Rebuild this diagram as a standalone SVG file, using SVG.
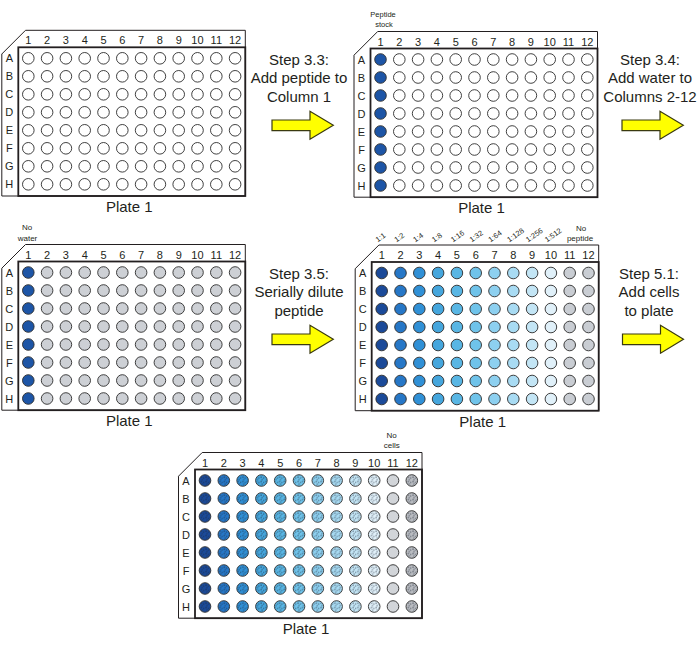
<svg xmlns="http://www.w3.org/2000/svg" xmlns:xlink="http://www.w3.org/1999/xlink" width="699" height="645" viewBox="0 0 699 645">
<style>
text{font-family:"Liberation Sans",Arial,sans-serif;fill:#231f20}
.n{font-size:11px;text-anchor:middle}
.pl{font-size:15px;text-anchor:middle}
.st{font-size:15px;text-anchor:middle}
.sm{font-size:8px;text-anchor:middle}
.dl{font-size:7.5px}
.outer{fill:#fff;stroke:#231f20;stroke-width:1}
.inner{fill:none;stroke:#231f20;stroke-width:1.8}
.w circle{stroke:#2b2b2b;stroke-width:0.9}
.arrow{fill:#ffff00;stroke:#3a3a10;stroke-width:1.2}
</style>
<defs>
<pattern id="cells" x="0" y="0" width="4.6" height="4.6" patternUnits="userSpaceOnUse">
<circle cx="1" cy="1.1" r="0.7" fill="#1a2433" fill-opacity="0.7"/>
<circle cx="3.4" cy="2.0" r="0.6" fill="#1a2433" fill-opacity="0.7"/>
<circle cx="1.9" cy="3.7" r="0.6" fill="#1a2433" fill-opacity="0.7"/>
</pattern>
<g id="frame">
<path class="outer" d="M-2.8,-28H217V137.7H-26.5V-4.3Z"/>
<rect class="inner" x="-10" y="-11" width="227" height="148.7"/>
<g class="n">
<text x="-19" y="4">A</text><text x="-19" y="22">B</text><text x="-19" y="40">C</text><text x="-19" y="58">D</text>
<text x="-19" y="76">E</text><text x="-19" y="94">F</text><text x="-19" y="112">G</text><text x="-19" y="130">H</text>
<text x="0" y="-14">1</text><text x="18.8" y="-14">2</text><text x="37.6" y="-14">3</text><text x="56.4" y="-14">4</text>
<text x="75.2" y="-14">5</text><text x="94" y="-14">6</text><text x="112.8" y="-14">7</text><text x="131.6" y="-14">8</text>
<text x="150.4" y="-14">9</text><text x="169.2" y="-14">10</text><text x="188" y="-14">11</text><text x="206.8" y="-14">12</text>
</g>
</g>
<g id="r1" class="w">
<circle cx="0" r="5.8" fill="#fff"/><circle cx="18.8" r="5.8" fill="#fff"/><circle cx="37.6" r="5.8" fill="#fff"/><circle cx="56.4" r="5.8" fill="#fff"/>
<circle cx="75.2" r="5.8" fill="#fff"/><circle cx="94" r="5.8" fill="#fff"/><circle cx="112.8" r="5.8" fill="#fff"/><circle cx="131.6" r="5.8" fill="#fff"/>
<circle cx="150.4" r="5.8" fill="#fff"/><circle cx="169.2" r="5.8" fill="#fff"/><circle cx="188" r="5.8" fill="#fff"/><circle cx="206.8" r="5.8" fill="#fff"/>
</g>
<g id="r2" class="w">
<circle cx="0" r="5.8" fill="#1d55a6"/><circle cx="18.8" r="5.8" fill="#fff"/><circle cx="37.6" r="5.8" fill="#fff"/><circle cx="56.4" r="5.8" fill="#fff"/>
<circle cx="75.2" r="5.8" fill="#fff"/><circle cx="94" r="5.8" fill="#fff"/><circle cx="112.8" r="5.8" fill="#fff"/><circle cx="131.6" r="5.8" fill="#fff"/>
<circle cx="150.4" r="5.8" fill="#fff"/><circle cx="169.2" r="5.8" fill="#fff"/><circle cx="188" r="5.8" fill="#fff"/><circle cx="206.8" r="5.8" fill="#fff"/>
</g>
<g id="r3" class="w">
<circle cx="0" r="5.8" fill="#1d55a6"/><circle cx="18.8" r="5.8" fill="#cdd0d5"/><circle cx="37.6" r="5.8" fill="#cdd0d5"/><circle cx="56.4" r="5.8" fill="#cdd0d5"/>
<circle cx="75.2" r="5.8" fill="#cdd0d5"/><circle cx="94" r="5.8" fill="#cdd0d5"/><circle cx="112.8" r="5.8" fill="#cdd0d5"/><circle cx="131.6" r="5.8" fill="#cdd0d5"/>
<circle cx="150.4" r="5.8" fill="#cdd0d5"/><circle cx="169.2" r="5.8" fill="#cdd0d5"/><circle cx="188" r="5.8" fill="#cdd0d5"/><circle cx="206.8" r="5.8" fill="#cdd0d5"/>
</g>
<g id="r4" class="w">
<circle cx="0" r="5.8" fill="#1b4a99"/><circle cx="18.8" r="5.8" fill="#2677c7"/><circle cx="37.6" r="5.8" fill="#3090d6"/><circle cx="56.4" r="5.8" fill="#45a6dd"/>
<circle cx="75.2" r="5.8" fill="#59b6e4"/><circle cx="94" r="5.8" fill="#6fc3ea"/><circle cx="112.8" r="5.8" fill="#8dd0f0"/><circle cx="131.6" r="5.8" fill="#a8dbf3"/>
<circle cx="150.4" r="5.8" fill="#c3e5f5"/><circle cx="169.2" r="5.8" fill="#e0f0f9"/><circle cx="188" r="5.8" fill="#c9cdd3"/><circle cx="206.8" r="5.8" fill="#c9cdd3"/>
</g>
<g id="r5">
<g class="w">
<circle cx="0" r="5.8" fill="#1b4a99"/><circle cx="18.8" r="5.8" fill="#2677c7"/><circle cx="37.6" r="5.8" fill="#3090d6"/><circle cx="56.4" r="5.8" fill="#45a6dd"/>
<circle cx="75.2" r="5.8" fill="#59b6e4"/><circle cx="94" r="5.8" fill="#6fc3ea"/><circle cx="112.8" r="5.8" fill="#8dd0f0"/><circle cx="131.6" r="5.8" fill="#a8dbf3"/>
<circle cx="150.4" r="5.8" fill="#c3e5f5"/><circle cx="169.2" r="5.8" fill="#e0f0f9"/><circle cx="188" r="5.8" fill="#d2d5d9"/><circle cx="206.8" r="5.8" fill="#b9bcc1"/>
</g>
<g fill="url(#cells)" stroke="none">
<circle cx="0" r="5" /><circle cx="18.8" r="5"/><circle cx="37.6" r="5"/><circle cx="56.4" r="5"/>
<circle cx="75.2" r="5"/><circle cx="94" r="5"/><circle cx="112.8" r="5"/><circle cx="131.6" r="5"/>
<circle cx="150.4" r="5"/><circle cx="169.2" r="5"/><circle cx="206.8" r="5"/>
</g>
</g>
</defs>

<g id="plate-1-empty">
<g transform="translate(28.3,58.3)">
<use xlink:href="#frame"/>
<use xlink:href="#r1" y="0"/><use xlink:href="#r1" y="18"/><use xlink:href="#r1" y="36"/><use xlink:href="#r1" y="54"/>
<use xlink:href="#r1" y="72"/><use xlink:href="#r1" y="90"/><use xlink:href="#r1" y="108"/><use xlink:href="#r1" y="126"/>
<text class="pl" x="101" y="153.5">Plate 1</text>
</g>
</g>

<g id="plate-2-peptide">
<g transform="translate(380.5,59.5)">
<use xlink:href="#frame"/>
<use xlink:href="#r2" y="0"/><use xlink:href="#r2" y="18"/><use xlink:href="#r2" y="36"/><use xlink:href="#r2" y="54"/>
<use xlink:href="#r2" y="72"/><use xlink:href="#r2" y="90"/><use xlink:href="#r2" y="108"/><use xlink:href="#r2" y="126"/>
<text class="pl" x="101" y="153.5">Plate 1</text>
</g>
<text class="sm" style="font-size:7.5px" x="383" y="17">Peptide</text>
<text class="sm" style="font-size:7.5px" x="384" y="27">stock</text>
</g>

<g id="plate-3-water">
<g transform="translate(28.3,272.5)">
<use xlink:href="#frame"/>
<use xlink:href="#r3" y="0"/><use xlink:href="#r3" y="18"/><use xlink:href="#r3" y="36"/><use xlink:href="#r3" y="54"/>
<use xlink:href="#r3" y="72"/><use xlink:href="#r3" y="90"/><use xlink:href="#r3" y="108"/><use xlink:href="#r3" y="126"/>
<text class="pl" x="101" y="153.5">Plate 1</text>
</g>
<text class="sm" x="27" y="230">No</text>
<text class="sm" x="27.5" y="240.5">water</text>
</g>

<g id="plate-4-dilution">
<g transform="translate(381.7,273)">
<use xlink:href="#frame"/>
<use xlink:href="#r4" y="0"/><use xlink:href="#r4" y="18"/><use xlink:href="#r4" y="36"/><use xlink:href="#r4" y="54"/>
<use xlink:href="#r4" y="72"/><use xlink:href="#r4" y="90"/><use xlink:href="#r4" y="108"/><use xlink:href="#r4" y="126"/>
<text class="pl" x="101" y="153.5">Plate 1</text>
<g class="dl">
<text transform="translate(-4,-30.5) rotate(-35)">1:1</text>
<text transform="translate(14.8,-30.5) rotate(-35)">1:2</text>
<text transform="translate(33.6,-30.5) rotate(-35)">1:4</text>
<text transform="translate(52.4,-30.5) rotate(-35)">1:8</text>
<text transform="translate(71.2,-30.5) rotate(-35)">1:16</text>
<text transform="translate(90,-30.5) rotate(-35)">1:32</text>
<text transform="translate(108.8,-30.5) rotate(-35)">1:64</text>
<text transform="translate(127.6,-30.5) rotate(-35)">1:128</text>
<text transform="translate(146.4,-30.5) rotate(-35)">1:256</text>
<text transform="translate(165.2,-30.5) rotate(-35)">1:512</text>
</g>
</g>
<text class="sm" x="581" y="231">No</text>
<text class="sm" x="580" y="240.5">peptide</text>
</g>

<g id="plate-5-cells">
<g transform="translate(205,480.5)">
<use xlink:href="#frame"/>
<use xlink:href="#r5" y="0"/><use xlink:href="#r5" y="18"/><use xlink:href="#r5" y="36"/><use xlink:href="#r5" y="54"/>
<use xlink:href="#r5" y="72"/><use xlink:href="#r5" y="90"/><use xlink:href="#r5" y="108"/><use xlink:href="#r5" y="126"/>
<text class="pl" x="101" y="153.5">Plate 1</text>
</g>
<text class="sm" x="391.7" y="438">No</text>
<text class="sm" x="391.7" y="448">cells</text>
</g>

<g id="connectors">
<g id="step-3-3">
<text class="st" x="299" y="64.5">Step 3.3:</text>
<text class="st" x="299" y="83">Add peptide to</text>
<text class="st" x="299" y="101.5">Column 1</text>
<polygon class="arrow" points="272,120 310,120 310,111.3 333.3,125.3 310,139.3 310,130.6 272,130.6"/>
</g>
<g id="step-3-4">
<text class="st" x="650" y="64.5">Step 3.4:</text>
<text class="st" x="650" y="83">Add water to</text>
<text class="st" x="650" y="101.5">Columns 2-12</text>
<polygon class="arrow" points="622,120 660,120 660,111.3 683.3,125.3 660,139.3 660,130.6 622,130.6"/>
</g>
<g id="step-3-5">
<text class="st" x="299" y="278.5">Step 3.5:</text>
<text class="st" x="299" y="297">Serially dilute</text>
<text class="st" x="299" y="315.5">peptide</text>
<polygon class="arrow" points="272,334 310,334 310,325.3 333.3,339.3 310,353.3 310,344.6 272,344.6"/>
</g>
<g id="step-5-1">
<text class="st" x="649" y="278.5">Step 5.1:</text>
<text class="st" x="649" y="297">Add cells</text>
<text class="st" x="649" y="315.5">to plate</text>
<polygon class="arrow" points="622.5,334 660.5,334 660.5,325.3 683.5,339.3 660.5,353.3 660.5,344.6 622.5,344.6"/>
</g>
</g>
</svg>
